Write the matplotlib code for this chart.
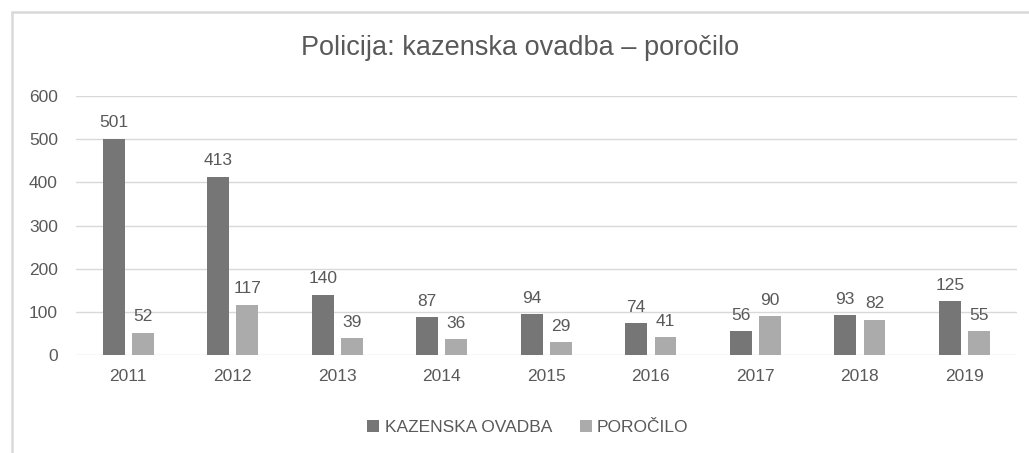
import matplotlib

matplotlib.use("Agg")
import matplotlib.pyplot as plt
import numpy as np
from matplotlib.patches import Rectangle

years = ["2011", "2012", "2013", "2014", "2015", "2016", "2017", "2018", "2019"]
ovadba = [501, 413, 140, 87, 94, 74, 56, 93, 125]
porocilo = [52, 117, 39, 36, 29, 41, 90, 82, 55]

DARK = "#767676"
LIGHT = "#ababab"
TEXT = "#595959"
GRID = "#d9d9d9"

plt.rcParams["font.family"] = ["Liberation Sans", "DejaVu Sans"]

fig = plt.figure(figsize=(10.29, 4.53), dpi=100)
ax = fig.add_axes([0.0739, 0.2163, 0.9141, 0.5717])

x = np.arange(len(years))
w, off = 0.21, 0.14
b1 = ax.bar(x - off, ovadba, w, color=DARK, label="KAZENSKA OVADBA")
b2 = ax.bar(x + off, porocilo, w, color=LIGHT, label="POROČILO")
for bars in (b1, b2):
    ax.bar_label(bars, padding=6, fontsize=12.5, color=TEXT)

ax.set_xlim(-0.5, len(years) - 0.5)
ax.set_ylim(0, 600)
ax.set_yticks(range(0, 601, 100))
ax.set_xticks(x, years)
ax.yaxis.grid(True, color=GRID, lw=1)
ax.set_axisbelow(True)
for s in ax.spines.values():
    s.set_visible(False)
ax.tick_params(length=0, labelsize=12.5, labelcolor=TEXT)
ax.tick_params(axis="y", pad=13)
ax.tick_params(axis="x", pad=10)

fig.text(0.505, 0.894, "Policija: kazenska ovadba – poročilo", ha="center", va="center",
         fontsize=19.5, color=TEXT)

fig.legend(loc="center", bbox_to_anchor=(0.513, 0.057), ncol=2, frameon=False,
           fontsize=12.5, labelcolor=TEXT, handlelength=0.7, handleheight=0.7,
           handletextpad=0.3, columnspacing=1.6)

# chart frame
fig.patches.append(Rectangle((12 / 1029, -0.1), 1.2, 1 - 12 / 453 + 0.1,
                             transform=fig.transFigure, fill=False,
                             edgecolor=GRID, lw=1.8))

fig.savefig("out.png", dpi=100)
